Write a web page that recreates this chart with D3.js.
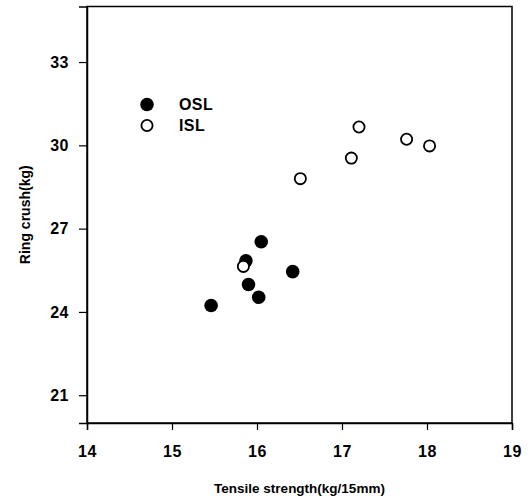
<!DOCTYPE html>
<html>
<head>
<meta charset="utf-8">
<script src="https://cdn.jsdelivr.net/npm/d3@7"></script>
<style>
  body { margin: 0; background: #fff; }
  text { font-family: "Liberation Sans", Arial, sans-serif; font-weight: bold; fill: #000; }
</style>
</head>
<body>
<div id="chart"></div>
<script>
var width = 531,
    height = 500;

// OSL (filled)
var oslX = [15.46, 15.87, 15.90, 16.02, 16.05, 16.42];
var oslY = [24.23, 25.84, 24.99, 24.53, 26.53, 25.45];
// ISL (open)
var islX = [15.84, 16.51, 17.11, 17.20, 17.76, 18.03];
var islY = [25.64, 28.80, 29.54, 30.66, 30.22, 29.98];

var xTicks = [14, 15, 16, 17, 18, 19];
var yTicks = [21, 24, 27, 30, 33];

var seriesNames = ["OSL", "ISL"];

var plot = { left: 87, right: 512, top: 6.5, bottom: 423 };

var svg = d3.select("#chart").append("svg")
    .attr("width", width)
    .attr("height", height);

var x = d3.scaleLinear().domain([14, 19]).range([plot.left, plot.right]);
var y = d3.scaleLinear().domain([20, 35]).range([plot.bottom, plot.top]);

// box
svg.append("rect")
    .attr("x", plot.left).attr("y", plot.top)
    .attr("width", plot.right - plot.left)
    .attr("height", plot.bottom - plot.top)
    .attr("fill", "none")
    .attr("stroke", "#000")
    .attr("stroke-width", 1.5);

var xAxis = svg.append("g")
    .attr("transform", "translate(0," + plot.bottom + ")")
    .call(d3.axisBottom(x).tickValues(xTicks).tickSize(7).tickPadding(16).tickFormat(d3.format("d")));

var yAxis = svg.append("g")
    .attr("transform", "translate(" + plot.left + ",0)")
    .call(d3.axisLeft(y).tickValues(yTicks).tickSize(8).tickPadding(10).tickFormat(d3.format("d")));

[xAxis, yAxis].forEach(function(a) {
  a.select(".domain").attr("stroke-width", 1.5);
  a.selectAll(".tick line").attr("stroke-width", 1.2);
  a.selectAll(".tick text")
    .style("font-size", "16px")
    .style("letter-spacing", "0.5px")
    .style("font-family", "'Liberation Sans', Arial, sans-serif")
    .style("font-weight", "bold");
});

// axis titles
svg.append("text")
    .attr("x", (plot.left + plot.right) / 2)
    .attr("y", 493)
    .attr("text-anchor", "middle")
    .style("font-size", "13.5px")
    .text("Tensile strength(kg/15mm)");

svg.append("text")
    .attr("transform", "translate(30," + ((plot.top + plot.bottom) / 2) + ") rotate(-90)")
    .attr("text-anchor", "middle")
    .style("font-size", "14px")
    .text("Ring crush(kg)");

// points
var osl = oslX.map(function(d, i) { return { x: d, y: oslY[i] }; });
var isl = islX.map(function(d, i) { return { x: d, y: islY[i] }; });

svg.selectAll(".osl").data(osl).enter().append("circle")
    .attr("class", "osl")
    .attr("cx", function(d) { return x(d.x); })
    .attr("cy", function(d) { return y(d.y); })
    .attr("r", 6.8)
    .attr("fill", "#000");

svg.selectAll(".isl").data(isl).enter().append("circle")
    .attr("class", "isl")
    .attr("cx", function(d) { return x(d.x); })
    .attr("cy", function(d) { return y(d.y); })
    .attr("r", 5.6)
    .attr("fill", "#fff")
    .attr("stroke", "#000")
    .attr("stroke-width", 1.8);

// legend
var legend = svg.append("g");
seriesNames.forEach(function(name, i) {
  var cy = 104.5 + i * 21;
  var c = legend.append("circle")
      .attr("cx", 147)
      .attr("cy", cy);
  if (i === 0) {
    c.attr("r", 6.8).attr("fill", "#000");
  } else {
    c.attr("r", 5.6).attr("fill", "#fff").attr("stroke", "#000").attr("stroke-width", 1.8);
  }
  legend.append("text")
      .attr("x", 179)
      .attr("y", cy + 5.5)
      .style("font-size", "16px")
      .style("letter-spacing", "0.4px")
      .text(name);
});
</script>
</body>
</html>
